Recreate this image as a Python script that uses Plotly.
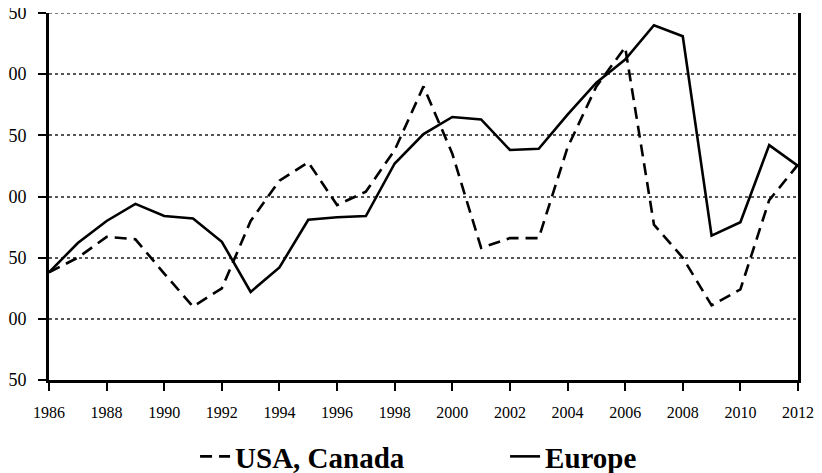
import plotly.graph_objects as go

years = list(range(1986, 2013))
usa_canada = [138, 150, 167, 165, 137, 110, 125, 180, 213, 228, 193, 204, 238, 290, 235, 158,
              166, 166, 240, 290, 322, 177, 150, 111, 124, 197, 226]
europe = [138, 162, 180, 194, 184, 182, 163, 122, 142, 181, 183, 184, 227, 251, 265, 263,
          238, 239, 267, 293, 312, 340, 331, 168, 179, 242, 225]
x_ticks = list(range(1986, 2013, 2))
y_ticks = [50, 100, 150, 200, 250, 300, 350]

serif = "Liberation Serif"
grid_color = "#555555"

fig = go.Figure()
fig.add_trace(go.Scatter(x=years, y=usa_canada, mode="lines", name="USA, Canada",
                         line=dict(color="black", width=2.6, dash="12px,7px")))
fig.add_trace(go.Scatter(x=years, y=europe, mode="lines", name="Europe",
                         line=dict(color="black", width=2.6)))

# top gridline at the upper end of the y range
fig.add_shape(type="line", xref="paper", x0=0, x1=1, yref="y", y0=y_ticks[-1], y1=y_ticks[-1],
              line=dict(color=grid_color, width=1.5, dash="dot"), layer="below")

fig.update_layout(
    width=822, height=473,
    margin=dict(l=41, r=32, t=5, b=101, autoexpand=False),
    plot_bgcolor="white", paper_bgcolor="white",
    font=dict(family=serif, color="black"),
    showlegend=True,
    legend=dict(orientation="h", x=0.195, xanchor="left", y=-0.139, yanchor="top",
                font=dict(family=serif, size=29, weight="bold", color="black"),
                entrywidth=265, entrywidthmode="pixels", bgcolor="rgba(0,0,0,0)"),
)
fig.update_xaxes(range=[1986, 2012], tickvals=x_ticks, ticktext=[str(v) for v in x_ticks],
                 showgrid=False, zeroline=False, showline=True, linecolor="black", linewidth=3,
                 ticks="outside", ticklen=8, tickwidth=2, tickcolor="black", automargin=False,
                 ticklabeloverflow="allow",
                 tickfont=dict(family=serif, size=16, color="black"), ticklabelstandoff=8)
fig.update_yaxes(range=[50, 350], tickvals=y_ticks, automargin=False,
                 showgrid=True, gridcolor=grid_color, griddash="dot", gridwidth=1.5,
                 zeroline=False, showline=True, linecolor="black", linewidth=3, mirror=True,
                 ticks="outside", ticklen=8, tickwidth=2, tickcolor="black",
                 ticklabeloverflow="allow",
                 tickfont=dict(family=serif, size=18, color="black"), ticklabelstandoff=8)

fig.write_html("out.html")
